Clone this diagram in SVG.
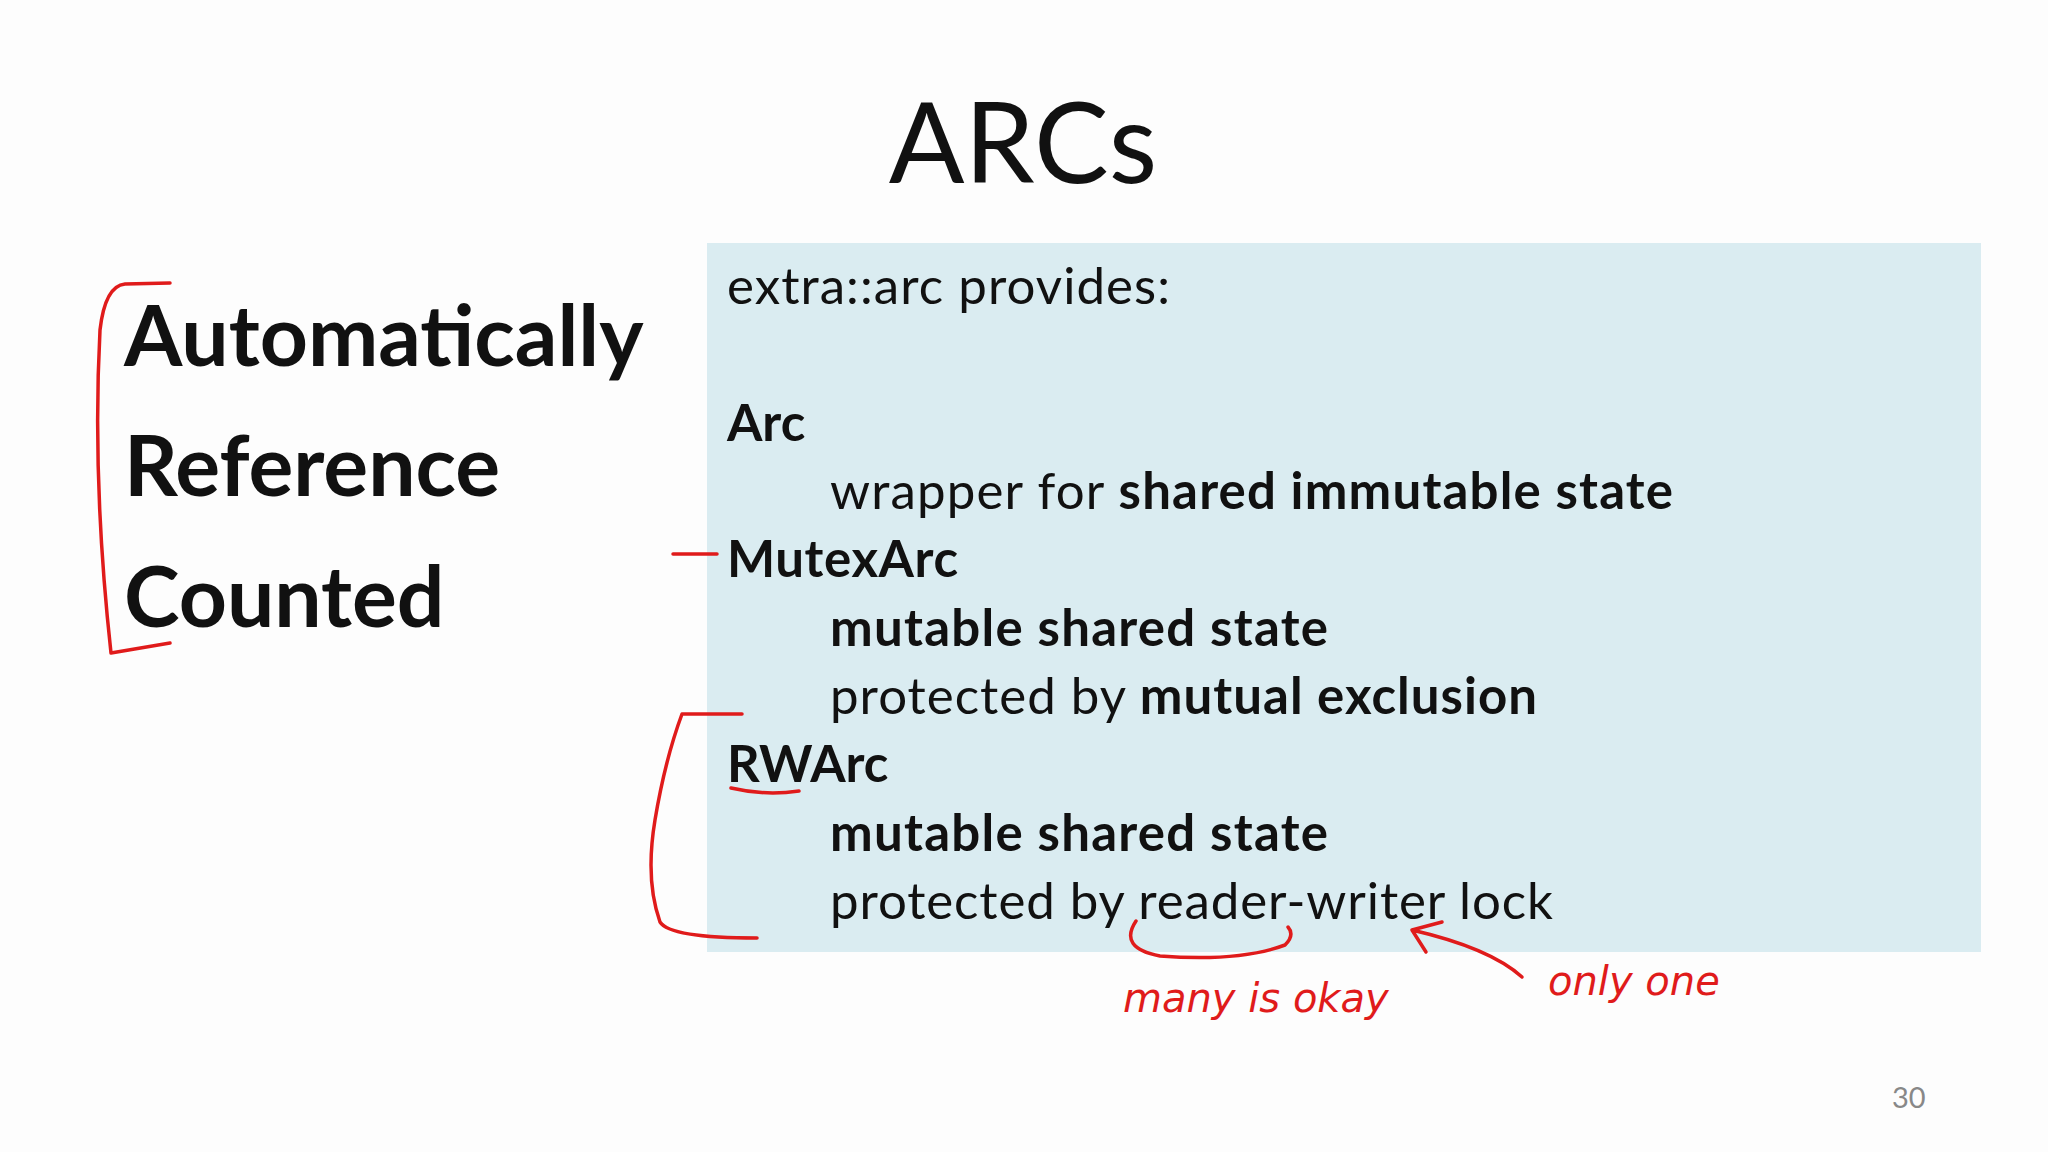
<svg xmlns="http://www.w3.org/2000/svg" width="2048" height="1152" viewBox="0 0 2048 1152">
<style>
.t{font-family:Lato,"Open Sans",sans-serif;fill:#111}
.b{font-weight:bold}
.box{font-size:51px}
.big{font-size:84px;font-weight:bold}
.ink{fill:none;stroke:#e01b1b;stroke-width:3.5;stroke-linecap:round;stroke-linejoin:round}
.hw{font-family:"DejaVu Sans",sans-serif;font-style:italic;fill:#e01b1b;font-size:40px}
</style>
<rect width="2048" height="1152" fill="#fdfdfd"/>
<g id="title"><text class="t" x="1023" y="183" font-size="112" text-anchor="middle">ARCs</text></g>
<g id="left">
<text class="t big" x="124" y="366">Automatically</text>
<text class="t big" x="124" y="496">Reference</text>
<text class="t big" x="124" y="627">Counted</text>
</g>
<g id="box">
<rect x="707" y="243" width="1274" height="709" fill="#daecf1"/>
<text class="t box" x="727" y="304" textLength="443" lengthAdjust="spacing">extra::arc provides:</text>
<text class="t box b" x="727" y="441">Arc</text>
<text class="t box" x="830" y="509" textLength="843" lengthAdjust="spacing">wrapper for <tspan class="b">shared immutable state</tspan></text>
<text class="t box b" x="727" y="577" textLength="231" lengthAdjust="spacing">MutexArc</text>
<text class="t box b" x="830" y="646" textLength="498" lengthAdjust="spacing">mutable shared state</text>
<text class="t box" x="830" y="714" textLength="707" lengthAdjust="spacing">protected by <tspan class="b">mutual exclusion</tspan></text>
<text class="t box b" x="727" y="782">RWArc</text>
<text class="t box b" x="830" y="851" textLength="498" lengthAdjust="spacing">mutable shared state</text>
<text class="t box" x="830" y="919" textLength="723" lengthAdjust="spacing">protected by reader-writer lock</text>
</g>
<g id="page"><text class="t" x="1892" y="1108" font-size="29" style="fill:#888">30</text></g>
<g id="ink">
<path class="ink" d="M170 283 L125 284 Q105 286 100 330 Q92 480 111 653 L170 643"/>
<path class="ink" d="M673 554 L717 554"/>
<path class="ink" d="M742 714 L682 714 Q665 760 655 820 Q645 880 660 922 Q670 938 757 938"/>
<path class="ink" d="M731 788 Q765 796 799 791"/>
<path class="ink" d="M1136 921 Q1118 948 1160 956 Q1240 962 1285 945 Q1295 935 1288 927"/>
<path class="ink" d="M1522 977 Q1490 948 1412 930 M1412 930 L1442 922 M1412 930 L1426 952"/>
<text class="hw" x="1123" y="1012">many is okay</text>
<text class="hw" x="1548" y="995">only one</text>
</g>
</svg>
